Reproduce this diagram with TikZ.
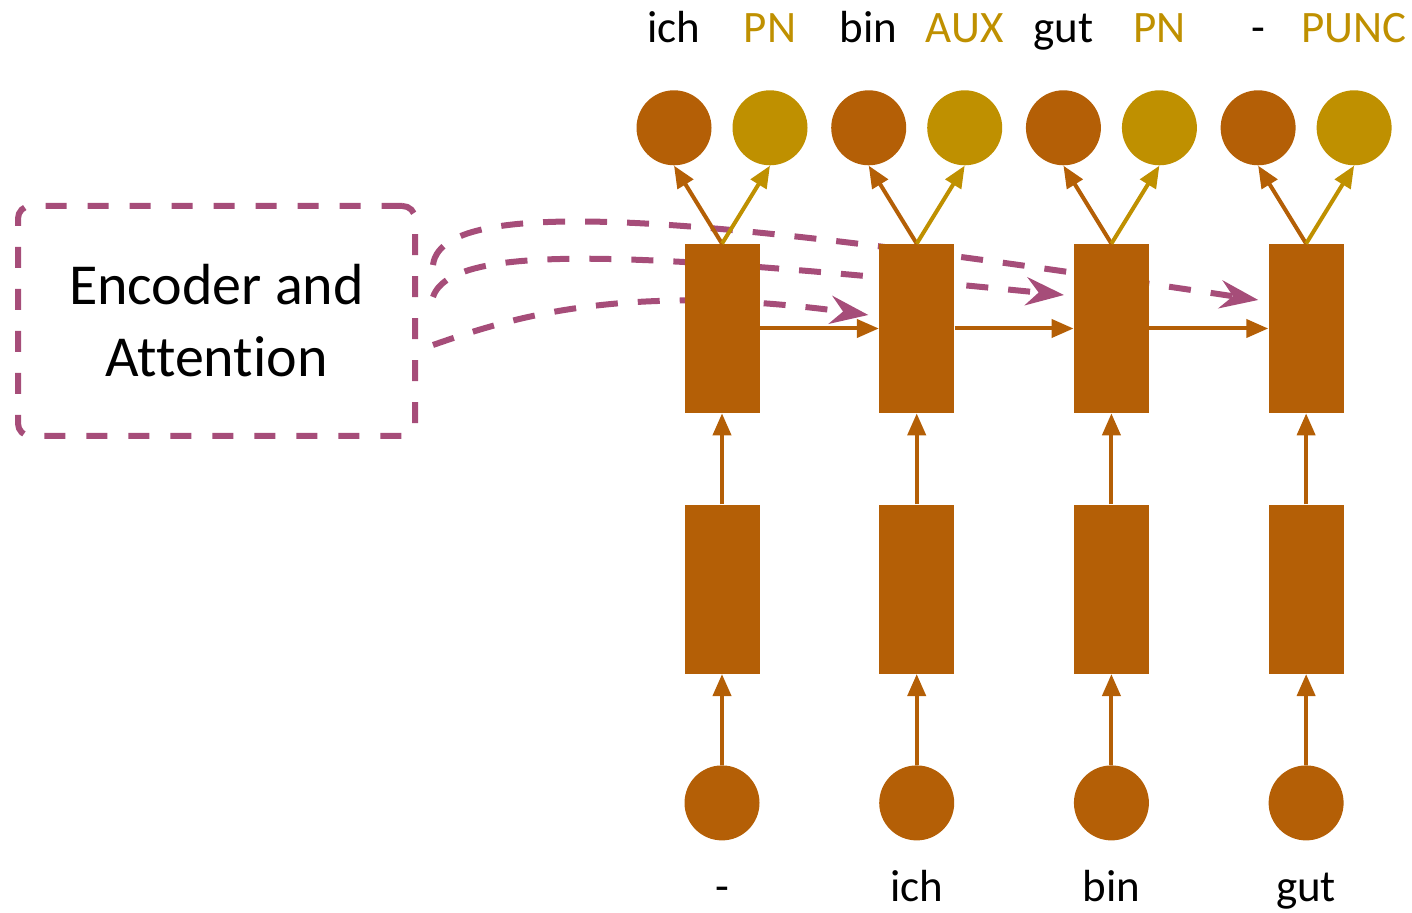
\documentclass[tikz,border=0pt]{standalone}
\usepackage{fontspec}
\setmainfont{Carlito}[Ligatures=CommonOff]
\usepackage{tikz}
\usetikzlibrary{positioning,arrows.meta,backgrounds}

\definecolor{rust}{HTML}{B45F06}
\definecolor{gold}{HTML}{BF9000}
\definecolor{plum}{HTML}{A64D79}

\begin{document}
\begin{tikzpicture}[
		node distance=1.82cm and 2.38cm,
		cell/.style={rectangle, fill=rust, minimum width=1.5cm, minimum height=3.38cm, inner sep=0},
		dot/.style={circle, fill=#1, minimum size=1.5cm, inner sep=0},
		word/.style={inner sep=0, text height=0.5cm, text depth=0, font=\fontsize{25.6}{30}\selectfont},
		flow/.style={draw=#1, line width=0.08cm, -{Triangle[length=0.44cm, width=0.36cm]}},
		attn/.style={draw=plum, line width=0.12cm, dash pattern=on 0.44cm off 0.4cm,
			-{Stealth[length=0.76cm, width=0.56cm, inset=0.25cm]}}
	]
		\useasboundingbox (0,0) rectangle (28.24,18.24);

		% encoder box
		\node(enc)[draw=plum, line width=0.12cm, dash pattern=on 0.42cm off 0.42cm, rounded corners=0.25cm,
			minimum width=7.94cm, minimum height=4.6cm, align=center,
			font=\fontsize{33}{41}\selectfont] at (4.33,11.82){Encoder and\\Attention};

		% decoder states
		\node(H1)[cell] at (14.44,11.67){};
		\node(H2)[cell, right=of H1]{};
		\node(H3)[cell, right=of H2]{};
		\node(H4)[cell, right=of H3]{};

		% embeddings
		\node(E1)[cell, below=of H1]{};
		\node(E2)[cell, below=of H2]{};
		\node(E3)[cell, below=of H3]{};
		\node(E4)[cell, below=of H4]{};

		% inputs
		\node(X1)[dot=rust, below=of E1]{};
		\node(X2)[dot=rust, below=of E2]{};
		\node(X3)[dot=rust, below=of E3]{};
		\node(X4)[dot=rust, below=of E4]{};
		\node(x1)[word, below=0.7cm of X1]{-};
		\node(x2)[word, below=0.7cm of X2]{ich};
		\node(x3)[word, below=0.7cm of X3]{bin};
		\node(x4)[word, below=0.7cm of X4]{gut};

		% outputs: word and tag
		\node(W1)[dot=rust, above=1.56cm of H1, xshift=-0.96cm]{};
		\node(T1)[dot=gold, above=1.56cm of H1, xshift=0.96cm]{};
		\node(W2)[dot=rust, above=1.56cm of H2, xshift=-0.96cm]{};
		\node(T2)[dot=gold, above=1.56cm of H2, xshift=0.96cm]{};
		\node(W3)[dot=rust, above=1.56cm of H3, xshift=-0.96cm]{};
		\node(T3)[dot=gold, above=1.56cm of H3, xshift=0.96cm]{};
		\node(W4)[dot=rust, above=1.56cm of H4, xshift=-0.96cm]{};
		\node(T4)[dot=gold, above=1.56cm of H4, xshift=0.96cm]{};

		\node(w1)[word, above=0.94cm of W1]{ich};
		\node(t1)[word, text=gold, above=0.94cm of T1]{PN};
		\node(w2)[word, above=0.94cm of W2]{bin};
		\node(t2)[word, text=gold, above=0.94cm of T2]{AUX};
		\node(w3)[word, above=0.94cm of W3]{gut};
		\node(t3)[word, text=gold, above=0.94cm of T3]{PN};
		\node(w4)[word, above=0.94cm of W4]{-};
		\node(t4)[word, text=gold, above=0.94cm of T4]{PUNC};

		% attention context, behind the states
		\begin{scope}[on background layer]
			\draw[attn] ([shift={(0.3,1.12)}]enc.east) .. controls +(0.2,1.66) and +(-9.1,1.36) .. ([shift={(-0.2,0.57)}]H4.west);
			\draw[attn] ([shift={(0.3,0.48)}]enc.east) .. controls +(0.4,1.2) and +(-7.76,0.76) .. ([shift={(-0.19,0.67)}]H3.west);
			\draw[attn] ([shift={(0.3,-0.48)}]enc.east) .. controls +(1.6,0.56) and +(-4.86,0.66) .. ([shift={(-0.21,0.27)}]H2.west);
		\end{scope}

		\draw[flow=rust] (X1) -- (E1);
		\draw[flow=rust] (X2) -- (E2);
		\draw[flow=rust] (X3) -- (E3);
		\draw[flow=rust] (X4) -- (E4);

		\draw[flow=rust] (E1) -- (H1);
		\draw[flow=rust] (E2) -- (H2);
		\draw[flow=rust] (E3) -- (H3);
		\draw[flow=rust] (E4) -- (H4);

		\draw[flow=rust] (H1) -- (H2);
		\draw[flow=rust] (H2) -- (H3);
		\draw[flow=rust] (H3) -- (H4);

		\draw[flow=rust] (H1.north) -- (W1.south);
		\draw[flow=gold] (H1.north) -- (T1.south);
		\draw[flow=rust] (H2.north) -- (W2.south);
		\draw[flow=gold] (H2.north) -- (T2.south);
		\draw[flow=rust] (H3.north) -- (W3.south);
		\draw[flow=gold] (H3.north) -- (T3.south);
		\draw[flow=rust] (H4.north) -- (W4.south);
		\draw[flow=gold] (H4.north) -- (T4.south);
	\end{tikzpicture}
\end{document}
